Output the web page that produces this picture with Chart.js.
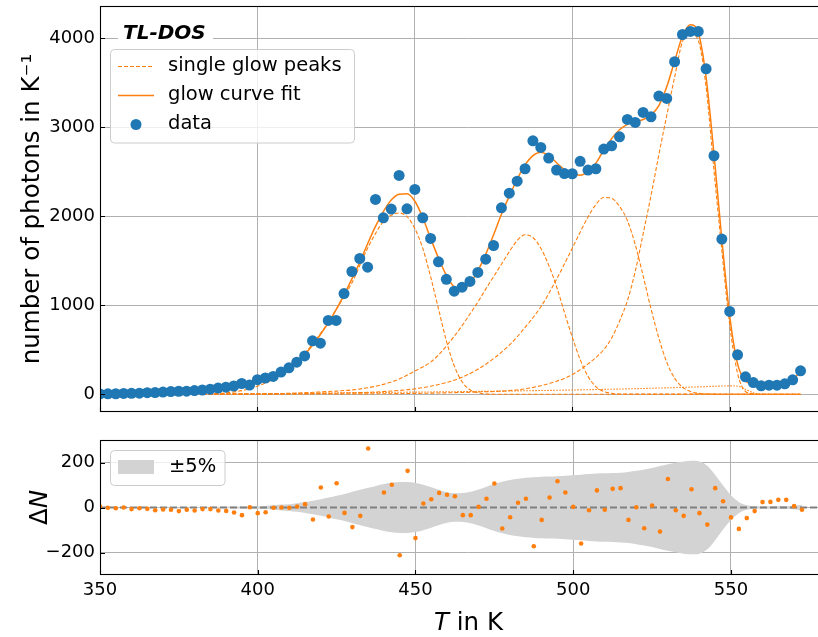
<!DOCTYPE html>
<html lang="en">
<head>
<meta charset="UTF-8">
<title>TL-DOS glow curve</title>
<style>
    html, body { margin: 0; padding: 0; background: #fff; overflow: hidden; }
    #wrap { position: relative; width: 841px; height: 637px; }
    #topBox { position: absolute; left: 0; top: 0; width: 841px; height: 420px; }
    #bottomBox { position: absolute; left: 0; top: 420px; width: 841px; height: 217px; }
</style>
</head>
<body>
<div id="wrap">
    <div id="topBox"><canvas id="mainChart"></canvas></div>
    <div id="bottomBox"><canvas id="residChart"></canvas></div>
</div>

<script src="https://cdn.jsdelivr.net/npm/chart.js"></script>
<script>
// measured temperatures (K)
const tempK = [
    350, 352.5, 355, 357.5, 360, 362.5, 365, 367.5, 370, 372.5,
    375, 377.5, 380, 382.5, 385, 387.5, 390, 392.5, 395, 397.5,
    400, 402.5, 405, 407.5, 410, 412.5, 415, 417.5, 420, 422.5,
    425, 427.5, 430, 432.5, 435, 437.5, 440, 442.5, 445, 447.5,
    450, 452.5, 455, 457.5, 460, 462.5, 465, 467.5, 470, 472.5,
    475, 477.5, 480, 482.5, 485, 487.5, 490, 492.5, 495, 497.5,
    500, 502.5, 505, 507.5, 510, 512.5, 515, 517.5, 520, 522.5,
    525, 527.5, 530, 532.5, 535, 537.5, 540, 542.5, 545, 547.5,
    550, 552.5, 555, 557.5, 560, 562.5, 565, 567.5, 570, 572.5
];

// number of photons per K (data points)
const photons = [
    3, 4, 5, 9, 10, 11, 17, 18, 24, 29,
    33, 34, 41, 47, 56, 69, 79, 92, 120, 103,
    163, 182, 200, 249, 296, 360, 430, 600, 573, 828,
    828, 1130, 1378, 1524, 1427, 2187, 1981, 2079, 2457, 2082,
    2300, 1981, 1749, 1487, 1290, 1157, 1202, 1266, 1367, 1517,
    1670, 2093, 2258, 2393, 2532, 2846, 2772, 2652, 2517, 2478,
    2476, 2616, 2517, 2532, 2753, 2790, 2891, 3086, 3052, 3165,
    3116, 3348, 3322, 3734, 4040, 4075, 4075, 3654, 2678, 1742,
    929, 442, 195, 131, 94, 101, 101, 116, 161, 262
];

// glow curve fit, same temperatures
const fitN = [
    5, 5, 6, 6, 7, 8, 9, 10, 12, 14,
    17, 22, 28, 37, 47, 56, 64, 72, 86, 106,
    135, 163, 199, 249, 295, 362, 445, 550, 670, 800,
    950, 1115, 1295, 1480, 1690, 1885, 2050, 2180, 2245, 2250,
    2167, 1985, 1750, 1530, 1335, 1205, 1175, 1245, 1385, 1570,
    1790, 2020, 2225, 2414, 2575, 2680, 2718, 2680, 2600, 2522,
    2475, 2460, 2500, 2595, 2740, 2870, 2970, 3031, 3060, 3085,
    3135, 3241, 3452, 3740, 4020, 4150, 4060, 3560, 2700, 1740,
    880, 340, 150, 115, 118, 126, 135, 150, 170, 252
];

// residuals Delta N
const residual = [
    4, -1, -3, 0, -7, -3, -6, -12, -9, -10,
    -16, -10, -13, -7, -7, -13, -15, -22, -34, 1,
    -25, -21, -1, 0, -1, 4, 15, -53, 89, -40,
    108, -24, -87, -37, 262, -330, 67, 101, -212, 163,
    -136, 18, 37, 65, 57, 50, -34, -34, 3, 39,
    107, -93, -43, 21, 39, -172, -55, 44, 117, 67,
    3, -160, -12, 76, -10, 83, 86, -55, 1, -92,
    9, -107, 127, -12, -37, 81, -25, -76, 86, 28,
    -44, -95, -47, -16, 24, 25, 34, 34, 6, -10
];

// half width of the +-5% band
const bandHalf = [
    0, 0, 0, 0, 0, 0, 0, 1, 1, 1,
    1, 1, 1, 2, 2, 3, 3, 4, 4, 5,
    5, 7, 10, 13, 15, 19, 24, 30, 37, 44,
    52, 60, 70, 79, 88, 96, 104, 110, 113, 113,
    109, 101, 90, 78, 68, 63, 64, 70, 80, 92,
    104, 114, 122, 128, 132, 135, 137, 138, 139, 141,
    143, 146, 149, 151, 152, 153, 155, 158, 163, 169,
    176, 184, 192, 199, 205, 208, 205, 186, 145, 98,
    55, 25, 10, 6, 6, 6, 7, 7, 8, 12
];

// single glow peaks
const peak1T = [382.5, 385, 390, 395, 400, 405, 410, 415, 420, 425, 430, 435, 440, 442.5, 445, 447.5, 450, 452.5, 455, 457.5, 460, 462.5, 465, 467.5, 470, 472.5, 475, 572.5];
const peak1N = [0, 5, 15, 40, 90, 170, 300, 460, 680, 950, 1250, 1640, 1940, 2010, 2035, 1995, 1860, 1640, 1320, 960, 600, 320, 140, 50, 15, 4, 0, 0];

const peak2T = [382.5, 400, 410, 420, 425, 430, 435, 440, 445, 450, 455, 457.5, 460, 462.5, 465, 467.5, 470, 472.5, 475, 477.5, 480, 482.5, 485, 487.5, 490, 492.5, 495, 497.5, 500, 502.5, 505, 507.5, 510, 512.5, 515, 572.5];
const peak2N = [0, 3, 10, 25, 35, 48, 72, 110, 170, 260, 360, 440, 540, 650, 770, 900, 1035, 1180, 1320, 1460, 1600, 1725, 1790, 1760, 1640, 1450, 1210, 920, 640, 390, 200, 85, 30, 10, 2, 0];

const peak3T = [382.5, 420, 430, 440, 450, 455, 460, 465, 470, 475, 480, 485, 490, 495, 500, 502.5, 505, 507.5, 510, 512.5, 515, 517.5, 520, 522.5, 525, 527.5, 530, 532.5, 535, 537.5, 540, 545, 572.5];
const peak3N = [0, 8, 15, 30, 60, 90, 130, 190, 280, 400, 550, 750, 980, 1290, 1640, 1820, 1990, 2130, 2210, 2200, 2110, 1950, 1680, 1330, 960, 630, 360, 180, 80, 30, 10, 1, 0];

const peak4T = [382.5, 440, 460, 470, 480, 485, 490, 495, 500, 505, 510, 512.5, 515, 517.5, 520, 522.5, 525, 527.5, 530, 532.5, 535, 537.5, 540, 542.5, 545, 547.5, 550, 552.5, 555, 557.5, 560, 572.5];
const peak4N = [0, 5, 15, 25, 40, 60, 95, 145, 220, 340, 500, 630, 820, 1050, 1380, 1800, 2230, 2690, 3130, 3560, 3960, 4050, 3975, 3450, 2515, 1615, 782, 235, 30, 5, 0, 0];

const peak5T = [382.5, 400, 420, 440, 460, 480, 500, 520, 540, 550, 552.5, 555, 557.5, 560, 562.5, 572.5];
const peak5N = [0, 5, 12, 20, 27, 36, 47, 62, 82, 93, 90, 55, 15, 2, 0, 0];

// tick labels
const xTicks = [350, 400, 450, 500, 550];
const topTicks = [0, 1000, 2000, 3000, 4000];
const residTicks = [-200, 0, 200];

const xMin = 350, xMax = 583.6;

const BLUE = '#1f77b4';
const ORANGE = '#ff7f0e';
const GRID = '#b0b0b0';
const FONT = 'DejaVu Sans';

Chart.defaults.font.family = FONT;
Chart.defaults.color = '#000';

const pairs = (xs, ys) => xs.map((x, i) => ({x: x, y: ys[i]}));
const fixTicks = list => (scale => { scale.ticks = list.map(v => ({value: v})); });
const fmt = v => v < 0 ? '\u2212' + Math.abs(v) : String(v);
const yFit = s => { s.width = 100; s.paddingTop = 0; s.paddingBottom = 0; };

function roundBox(ctx, x, y, w, h, r) {
    ctx.beginPath();
    ctx.moveTo(x + r, y);
    ctx.arcTo(x + w, y, x + w, y + h, r);
    ctx.arcTo(x + w, y + h, x, y + h, r);
    ctx.arcTo(x, y + h, x, y, r);
    ctx.arcTo(x, y, x + w, y, r);
    ctx.closePath();
    ctx.fillStyle = 'rgba(255,255,255,0.8)';
    ctx.fill();
    ctx.strokeStyle = '#cccccc';
    ctx.lineWidth = 1;
    ctx.stroke();
}

function frameAndTicks(chart) {
    const {ctx, chartArea: a, scales} = chart;
    ctx.save();
    ctx.strokeStyle = '#000';
    ctx.lineWidth = 1.1;
    ctx.strokeRect(a.left + 0.5, a.top + 0.5, a.right - a.left, a.bottom - a.top - 1);
    ctx.beginPath();
    scales.x.ticks.forEach(t => {
        const px = Math.round(scales.x.getPixelForValue(t.value)) + 0.5;
        ctx.moveTo(px, a.bottom);
        ctx.lineTo(px, a.bottom - 5);
    });
    scales.y.ticks.forEach(t => {
        const py = Math.round(scales.y.getPixelForValue(t.value)) + 0.5;
        ctx.moveTo(a.left, py);
        ctx.lineTo(a.left + 5, py);
    });
    ctx.stroke();
    ctx.restore();
}

const topDecor = {
    id: 'topDecor',
    afterDraw(chart) {
        const ctx = chart.ctx;
        frameAndTicks(chart);
        ctx.save();
        // TL-DOS label
        ctx.fillStyle = '#fff';
        ctx.fillRect(118, 22, 95, 25);
        ctx.fillStyle = '#000';
        ctx.font = 'italic bold 20px ' + FONT;
        ctx.textBaseline = 'middle';
        ctx.fillText('TL-DOS', 123, 34);

        // legend
        roundBox(ctx, 110.5, 49.5, 244, 93.5, 4);
        ctx.strokeStyle = ORANGE;
        ctx.lineWidth = 1.1;
        ctx.setLineDash([4, 2]);
        ctx.beginPath();
        ctx.moveTo(118, 66.5);
        ctx.lineTo(154, 66.5);
        ctx.stroke();
        ctx.setLineDash([]);
        ctx.lineWidth = 1.5;
        ctx.beginPath();
        ctx.moveTo(118, 95.5);
        ctx.lineTo(154, 95.5);
        ctx.stroke();
        ctx.fillStyle = BLUE;
        ctx.beginPath();
        ctx.arc(136, 124.5, 5.5, 0, Math.PI * 2);
        ctx.fill();

        ctx.fillStyle = '#000';
        ctx.font = '19.5px ' + FONT;
        ctx.fillText('single glow peaks', 168, 66);
        ctx.fillText('glow curve fit', 168, 95);
        ctx.fillText('data', 168, 124);
        ctx.restore();
    }
};

const bottomDecor = {
    id: 'bottomDecor',
    afterDraw(chart) {
        const {ctx, chartArea: a, scales} = chart;
        frameAndTicks(chart);
        ctx.save();
        // legend
        roundBox(ctx, 110.5, 30.5, 114.5, 35, 4);
        ctx.fillStyle = '#d3d3d3';
        ctx.fillRect(118, 40, 36, 14);
        ctx.fillStyle = '#000';
        ctx.font = '19.5px ' + FONT;
        ctx.textBaseline = 'middle';
        ctx.fillText('±5%', 169, 47);

        // x title with italic T
        const size = 24.5;
        ctx.textBaseline = 'alphabetic';
        ctx.font = 'italic ' + size + 'px ' + FONT;
        const wT = ctx.measureText('T').width;
        ctx.font = size + 'px ' + FONT;
        const wRest = ctx.measureText(' in K').width;
        let x0 = (a.left + a.right) / 2 - (wT + wRest) / 2;
        ctx.font = 'italic ' + size + 'px ' + FONT;
        ctx.fillText('T', x0, 210);
        ctx.font = size + 'px ' + FONT;
        ctx.fillText(' in K', x0 + wT, 210);

        // y title Delta N
        const yc = scales.y.getPixelForValue(0);
        ctx.translate(47, yc);
        ctx.rotate(-Math.PI / 2);
        ctx.font = size + 'px ' + FONT;
        const wD = ctx.measureText('Δ').width;
        ctx.font = 'italic ' + size + 'px ' + FONT;
        const wN = ctx.measureText('N').width;
        const s0 = -(wD + wN) / 2;
        ctx.font = size + 'px ' + FONT;
        ctx.fillText('Δ', s0, 0);
        ctx.font = 'italic ' + size + 'px ' + FONT;
        ctx.fillText('N', s0 + wD, 0);
        ctx.restore();
    }
};

const peakStyle = {
    borderColor: ORANGE,
    borderWidth: 1.1,
    borderDash: [4, 2],
    pointRadius: 0,
    fill: false,
    cubicInterpolationMode: 'monotone',
    order: 2
};

new Chart(document.getElementById('mainChart'), {
    type: 'line',
    data: {
        datasets: [
            {
                label: 'data',
                data: pairs(tempK, photons),
                showLine: false,
                pointRadius: 5.5,
                pointBackgroundColor: BLUE,
                pointBorderWidth: 0,
                order: 0
            },
            {
                label: 'glow curve fit',
                data: pairs(tempK, fitN),
                borderColor: ORANGE,
                borderWidth: 1.5,
                pointRadius: 0,
                cubicInterpolationMode: 'monotone',
                order: 1
            },
            Object.assign({label: 'peak 1', data: pairs(peak1T, peak1N)}, peakStyle),
            Object.assign({label: 'peak 2', data: pairs(peak2T, peak2N)}, peakStyle),
            Object.assign({label: 'peak 3', data: pairs(peak3T, peak3N)}, peakStyle),
            Object.assign({label: 'peak 4', data: pairs(peak4T, peak4N)}, peakStyle),
            Object.assign({label: 'peak 5', data: pairs(peak5T, peak5N)}, peakStyle, {borderDash: [1.5, 1.5]})
        ]
    },
    options: {
        responsive: true,
        maintainAspectRatio: false,
        animation: false,
        events: [],
        layout: { padding: { left: 0, right: 0, top: 6, bottom: 8 } },
        plugins: { legend: { display: false }, tooltip: { enabled: false } },
        scales: {
            x: {
                type: 'linear',
                min: xMin,
                max: xMax,
                afterBuildTicks: fixTicks(xTicks),
                ticks: { display: false },
                grid: { color: GRID, lineWidth: 1, drawTicks: false },
                border: { display: false },
                afterFit: s => { s.height = 0; s.paddingLeft = 0; s.paddingRight = 0; }
            },
            y: {
                min: -200,
                max: 4360,
                afterBuildTicks: fixTicks(topTicks),
                ticks: { padding: 5, font: { size: 18 }, callback: fmt },
                grid: { color: GRID, lineWidth: 1, drawTicks: false },
                border: { display: false },
                title: {
                    display: true,
                    text: 'number of photons in K⁻¹',
                    font: { size: 24.5 },
                    padding: { top: 18, bottom: 0 }
                },
                afterFit: yFit
            }
        }
    },
    plugins: [topDecor]
});

new Chart(document.getElementById('residChart'), {
    type: 'line',
    data: {
        datasets: [
            {
                label: 'residual',
                data: pairs(tempK, residual),
                showLine: false,
                pointRadius: 2.3,
                pointBackgroundColor: ORANGE,
                pointBorderWidth: 0,
                order: 0
            },
            {
                label: 'zero',
                data: [{x: xMin, y: 0}, {x: xMax, y: 0}],
                borderColor: '#808080',
                borderWidth: 2,
                borderDash: [7, 3],
                pointRadius: 0,
                order: 1
            },
            {
                label: 'band upper',
                data: pairs(tempK, bandHalf),
                borderWidth: 0,
                pointRadius: 0,
                cubicInterpolationMode: 'monotone',
                fill: false,
                order: 4
            },
            {
                label: '±5%',
                data: pairs(tempK, bandHalf.map(v => -v)),
                borderWidth: 0,
                pointRadius: 0,
                cubicInterpolationMode: 'monotone',
                backgroundColor: '#d3d3d3',
                fill: '-1',
                order: 3
            }
        ]
    },
    options: {
        responsive: true,
        maintainAspectRatio: false,
        animation: false,
        events: [],
        layout: { padding: { left: 0, right: 0, top: 20, bottom: 0 } },
        plugins: { legend: { display: false }, tooltip: { enabled: false } },
        scales: {
            x: {
                type: 'linear',
                min: xMin,
                max: xMax,
                afterBuildTicks: fixTicks(xTicks),
                ticks: { padding: 5, font: { size: 18 }, maxRotation: 0, callback: fmt },
                grid: { color: GRID, lineWidth: 1, drawTicks: false },
                border: { display: false },
                afterFit: s => { s.height = 62; }
            },
            y: {
                min: -300,
                max: 300,
                afterBuildTicks: fixTicks(residTicks),
                ticks: { padding: 5, font: { size: 18 }, callback: fmt },
                grid: { color: GRID, lineWidth: 1, drawTicks: false },
                border: { display: false },
                afterFit: yFit
            }
        }
    },
    plugins: [bottomDecor]
});
</script>
</body>
</html>
